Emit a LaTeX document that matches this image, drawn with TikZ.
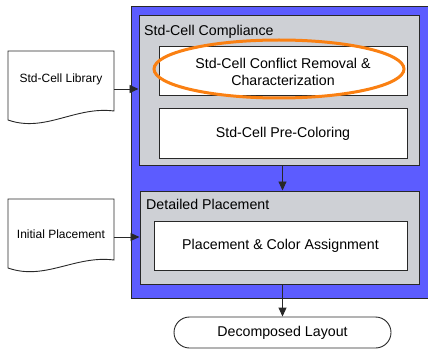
\documentclass[tikz,border=0pt]{standalone}
\usepackage{fontspec}
\setmainfont{Liberation Sans}
\usetikzlibrary{arrows.meta,shapes.misc,shapes.geometric}
\definecolor{bluebg}{RGB}{92,92,255}
\definecolor{greybg}{RGB}{206,208,213}
\definecolor{orng}{RGB}{250,128,18}
\definecolor{edge}{RGB}{40,40,40}
\tikzset{
  bigtxt/.style={font=\fontsize{14.2}{17}\selectfont, text=black},
  smalltxt/.style={font=\fontsize{12}{14}\selectfont, text=black},
  whitebox/.style={draw=edge, line width=1pt, fill=white, bigtxt, inner sep=0pt, align=center},
  greybox/.style={draw=edge, line width=1pt, fill=greybg, inner sep=0pt},
  docbox/.style={inner sep=0pt, minimum width=106pt},
  conn/.style={draw=edge, line width=0.9pt, -{Triangle[length=9pt,width=8pt]}},
  doc/.style={draw=edge, line width=0.9pt, fill=white},
}
\begin{document}
\begin{tikzpicture}[x=1pt,y=-1pt]
\useasboundingbox (0,0) rectangle (428,350);
% outer blue box
\node (blue) [draw=edge, line width=1pt, fill=bluebg, inner sep=0pt, minimum width=302pt, minimum height=291pt] at (282,152.5) {};
% grey boxes
\node (gc1) [greybox, minimum width=280pt, minimum height=149pt] at (279,90.5) {};
\node (gc2) [greybox, minimum width=279pt, minimum height=93pt] at (279.5,237.5) {};
\node (t1) [bigtxt, anchor=west, inner sep=0pt] at (144,32) {Std-Cell Compliance};
\node (t2) [bigtxt, anchor=west, inner sep=0pt] at (146,204) {Detailed Placement};
% white boxes
\node (w1) [whitebox, minimum width=248pt, minimum height=49pt] at (283,71.5) {Std-Cell Conflict Removal \&\\Characterization};
\node (w2) [whitebox, minimum width=248pt, minimum height=49pt] at (283,133.5) {Std-Cell Pre-Coloring};
\node (w3) [whitebox, minimum width=253pt, minimum height=49pt] at (280.5,245.5) {Placement \& Color Assignment};
% orange highlight
\node (hl) [ellipse, draw=orng, line width=3pt, minimum width=250pt, minimum height=58pt, inner sep=0pt] at (279,69) {};
% documents
\node (lib) [docbox, minimum height=76pt] at (61,89) {};
\draw[doc] (8,51) -- (114,51) -- (114,111) .. controls (75,106) and (45,133) .. (8,120) -- cycle;
\node (libt) [smalltxt] at (61,79) {Std-Cell Library};
\node (ip) [docbox, minimum height=76pt] at (61,237) {};
\draw[doc] (8,199) -- (114,199) -- (114,260) .. controls (75,255) and (45,281) .. (8,268) -- cycle;
\node (ipt) [smalltxt] at (61,234) {Initial Placement};
% terminator
\node (out) [rounded rectangle, draw=edge, line width=0.9pt, fill=white, bigtxt, minimum width=217pt, minimum height=31pt, inner sep=0pt] at (282.5,332.5) {Decomposed Layout};
% connectors
\draw[conn] (lib.east) -- (gc1.west |- lib.east);
\draw[conn] (ip.east) -- (gc2.west |- ip.east);
\draw[conn] (gc1.south -| out.north) -- (gc2.north -| out.north);
\draw[conn] (gc2.south -| out.north) -- (out.north);
\end{tikzpicture}
\end{document}
